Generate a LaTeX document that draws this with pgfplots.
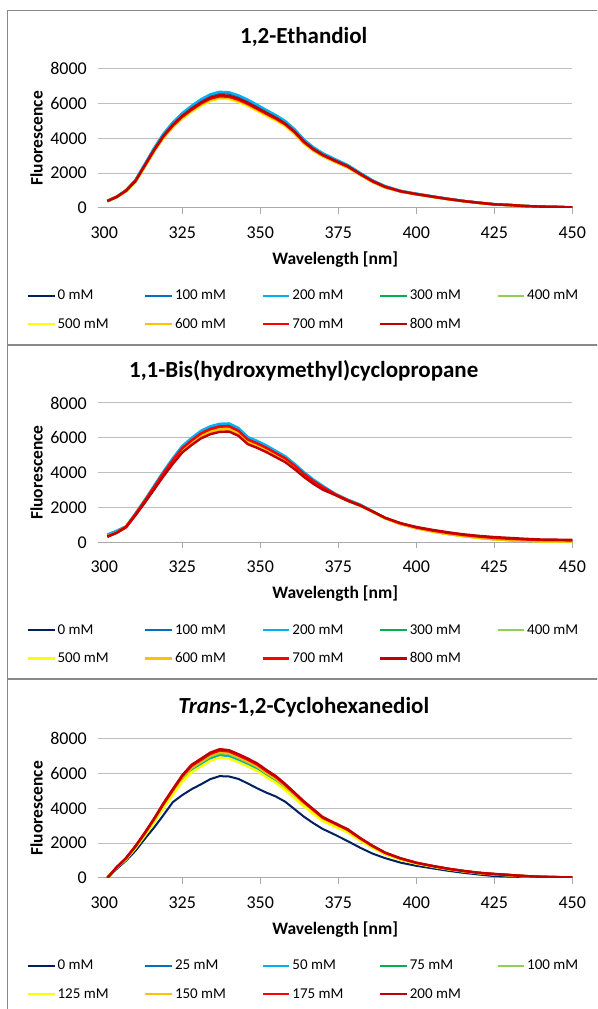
\documentclass[border=0pt]{standalone}
\usepackage{fontspec}
\setmainfont{Carlito}
\usepackage{pgfplots}
\usepackage{pgfplotstable}
\pgfplotsset{compat=1.18}

\definecolor{c0}{RGB}{0,32,96}
\definecolor{c1}{RGB}{0,112,192}
\definecolor{c2}{RGB}{0,176,240}
\definecolor{c3}{RGB}{0,176,80}
\definecolor{c4}{RGB}{146,208,80}
\definecolor{c5}{RGB}{255,255,0}
\definecolor{c6}{RGB}{255,192,0}
\definecolor{c7}{RGB}{255,0,0}
\definecolor{c8}{RGB}{192,0,0}
\definecolor{gridgray}{RGB}{191,191,191}
\definecolor{axisgray}{RGB}{170,170,170}
\definecolor{framegray}{RGB}{136,136,136}

% Fluorescence spectra, one column per concentration
\pgfplotstableread{
x   s0   s1   s2   s3   s4   s5   s6   s7   s8
301 390  410  415  400  400  395  398  400  400
304 625  650  655  635  635  630  632  636  640
307 975  1020 1030 985  985  970  980  990  1000
310 1521 1591 1607 1537 1537 1513 1529 1544 1560
313 2389 2499 2524 2413 2413 2377 2401 2426 2450
316 3266 3417 3451 3300 3300 3250 3283 3317 3350
319 4046 4233 4275 4088 4088 4026 4067 4109 4150
322 4661 4876 4923 4708 4708 4637 4684 4732 4780
325 5158 5396 5449 5211 5211 5131 5184 5237 5290
328 5558 5814 5871 5615 5615 5529 5586 5643 5700
331 5909 6181 6242 5969 5969 5878 5939 5999 6060
334 6182 6467 6530 6245 6245 6150 6213 6277 6340
337 6318 6610 6674 6383 6383 6286 6350 6415 6480
340 6289 6579 6644 6353 6353 6257 6321 6386 6450
343 6123 6406 6468 6186 6186 6092 6154 6217 6280
346 5889 6161 6221 5949 5949 5859 5919 5980 6040
349 5606 5865 5923 5664 5664 5578 5635 5693 5750
352 5324 5569 5624 5378 5378 5296 5351 5405 5460
355 5051 5284 5335 5102 5102 5025 5076 5128 5180
358 4729 4947 4996 4777 4777 4705 4753 4802 4850
361 4280 4478 4522 4324 4324 4258 4302 4346 4390
364 3725 3896 3935 3763 3763 3705 3744 3782 3820
367 3305 3458 3492 3339 3339 3288 3322 3356 3390
370 2984 3121 3152 3014 3014 2968 2999 3029 3060
374 2652 2774 2802 2679 2679 2638 2666 2693 2720
378 2340 2448 2472 2364 2364 2328 2352 2376 2400
382 1911 1999 2019 1931 1931 1901 1921 1940 1960
386 1502 1571 1586 1517 1517 1494 1509 1525 1540
390 1190 1244 1257 1202 1202 1183 1196 1208 1220
395 945  975  985  955  955  940  950  955  960
400 790  815  820  795  795  785  790  795  800
405 650  670  675  655  655  645  650  655  660
410 515  530  535  515  515  510  515  520  520
415 395  405  410  400  400  390  395  400  400
420 295  305  310  300  300  290  295  300  300
425 205  215  218  210  210  205  208  210  210
430 165  172  175  168  168  165  167  170  170
435 105  112  115  110  110  105  108  110  110
440 78   82   85   80   80   77   79   80   80
445 58   62   63   60   60   57   59   60   60
450 28   31   32   30   30   28   29   30   30
}\ethandiol

\pgfplotstableread{
x   s0   s1   s2   s3   s4   s5   s6   s7   s8
301 430  430  440  340  340  330  330  330  320
304 650  655  665  570  565  555  560  560  540
307 909  914  923  891  887  873  878  900  860
310 1636 1644 1661 1604 1596 1571 1580 1620 1547
313 2404 2416 2440 2356 2344 2309 2321 2380 2273
316 3212 3228 3260 3148 3132 3085 3101 3180 3037
319 4020 4040 4080 3940 3920 3861 3881 3980 3801
322 4767 4791 4838 4673 4649 4578 4602 4720 4508
325 5454 5481 5535 5346 5319 5238 5265 5400 5157
328 5909 5938 5996 5792 5762 5675 5704 5850 5587
331 6313 6344 6406 6188 6156 6063 6094 6250 5969
334 6565 6598 6663 6435 6403 6305 6338 6500 6208
337 6706 6740 6806 6574 6540 6441 6474 6640 6341
340 6727 6760 6827 6593 6560 6460 6494 6660 6360
343 6470 6502 6566 6342 6310 6214 6246 6406 6118
346 5959 5989 6048 5841 5812 5723 5753 5900 5635
349 5737 5765 5822 5623 5595 5510 5538 5680 5424
352 5474 5501 5556 5366 5339 5257 5285 5420 5176
355 5171 5197 5248 5069 5043 4966 4992 5120 4890
358 4868 4892 4941 4772 4748 4675 4700 4820 4603
361 4444 4466 4510 4356 4334 4268 4290 4400 4202
364 3969 3989 4028 3891 3871 3812 3832 3930 3753
367 3555 3573 3608 3485 3467 3414 3432 3520 3362
370 3202 3218 3249 3138 3122 3075 3091 3170 3027
374 2774 2782 2793 2746 2741 2719 2727 2760 2719
378 2432 2439 2449 2408 2403 2384 2391 2420 2384
382 2151 2157 2166 2129 2125 2108 2114 2140 2108
386 1779 1784 1791 1761 1758 1743 1749 1770 1770
390 1390 1395 1400 1385 1380 1375 1380 1400 1410
395 1060 1060 1065 1055 1055 1050 1052 1080 1100
400 820  822  825  815  815  810  812  850  880
405 640  642  645  635  635  630  632  680  720
410 490  492  495  485  485  480  482  540  580
415 370  372  375  365  365  360  362  420  460
420 270  272  275  265  265  260  262  330  370
425 180  182  185  178  178  175  176  250  300
430 130  132  135  128  128  125  126  200  250
435 90   92   95   88   88   85   86   160  200
440 60   62   64   58   58   55   56   130  160
445 45   47   48   43   43   40   42   120  150
450 35   37   38   33   33   30   32   110  140
}\cyclopropane

\pgfplotstableread{
x   s0   s1   s2   s3   s4   s5   s6   s7   s8
301 50   0    0    0    0    0    0    0    0
304 520  600  600  605  610  590  610  615  620
307 1000 1100 1100 1110 1115 1075 1127 1139 1150
310 1560 1748 1748 1766 1775 1711 1793 1812 1830
313 2250 2483 2483 2509 2522 2431 2548 2574 2600
316 2900 3266 3266 3300 3317 3198 3352 3386 3420
319 3620 4107 4107 4150 4171 4021 4214 4257 4300
322 4360 4880 4880 4931 4957 4778 5008 5059 5110
325 4760 5635 5635 5694 5723 5517 5782 5841 5900
328 5100 6208 6208 6273 6305 6078 6370 6435 6500
331 5380 6542 6542 6610 6645 6405 6713 6782 6850
334 5680 6876 6876 6948 6984 6732 7056 7128 7200
337 5850 7067 7067 7141 7178 6919 7252 7326 7400
340 5830 7010 7010 7083 7120 6863 7193 7267 7340
343 5690 6790 6790 6861 6897 6648 6968 7039 7110
346 5430 6551 6551 6620 6654 6414 6723 6791 6860
349 5150 6284 6284 6350 6383 6152 6448 6514 6580
352 4900 5921 5921 5983 6014 5797 6076 6138 6200
355 4680 5587 5587 5645 5675 5470 5733 5792 5850
358 4380 5157 5157 5211 5238 5049 5292 5346 5400
361 3950 4680 4680 4729 4753 4582 4802 4851 4900
364 3520 4202 4202 4246 4268 4114 4312 4356 4400
367 3150 3772 3772 3812 3832 3693 3871 3911 3950
370 2820 3343 3343 3378 3395 3273 3430 3465 3500
374 2480 3008 3008 3040 3056 2945 3087 3119 3150
378 2120 2674 2674 2702 2716 2618 2744 2772 2800
382 1740 2197 2197 2220 2231 2151 2254 2277 2300
386 1400 1767 1767 1785 1795 1730 1813 1832 1850
390 1140 1394 1394 1409 1416 1365 1431 1445 1460
395 880  1080 1080 1090 1096 1057 1107 1119 1130
400 700  840  840  849  854  823  862  871  880
405 560  670  670  675  680  660  690  695  700
410 420  515  515  520  525  505  530  535  540
415 300  390  390  395  398  385  402  406  410
420 200  285  285  288  290  280  294  297  300
425 110  215  215  218  220  210  222  226  230
430 80   160  160  162  164  155  166  168  170
435 60   100  100  102  104  98   106  108  110
440 40   62   62   64   65   60   66   68   70
445 30   44   44   45   46   42   47   48   50
450 20   27   27   28   28   26   29   29   30
}\cyclohexanediol

\pgfplotsset{
  panel/.style={
    scale only axis, width=474.3pt, height=139.3pt,
    xmin=298, xmax=450, ymin=0, ymax=8000,
    xtick={325,350,375,400,425,450},
    xticklabels={325,350,375,400,425,450},
    extra x ticks={300}, extra x tick labels={300},
    extra x tick style={major tick length=0pt, xticklabel style={yshift=-5.7pt}},
    ytick={0,2000,4000,6000,8000},
    yticklabels={0,2000,4000,6000,8000},
    axis x line*=bottom, axis y line*=left,
    x axis line style={draw=axisgray, line width=1pt, -},
    y axis line style={draw=none},
    ytick style={draw=none},
    xtick style={draw=axisgray, line width=1pt},
    tick align=outside, major tick length=5.7pt,
    ymajorgrids, grid style={gridgray, line width=1pt},
    ticklabel style={font=\fontsize{18}{18}\selectfont},
    yticklabel style={inner sep=0pt, anchor=east, xshift=-5.3pt},
    xticklabel style={inner sep=0pt, anchor=north, yshift=-13pt},
    xlabel={Wavelength [nm]}, ylabel={Fluorescence},
    label style={font=\bfseries\fontsize{17.5}{17.5}\selectfont, inner sep=0pt},
    xlabel style={at={(axis description cs:0.5,-0.4056)}, anchor=base},
    ylabel style={at={(axis description cs:-0.1167,0.5)}, anchor=base},
    clip=true,
    legend columns=5,
    legend cell align=left,
    legend image code/.code={\draw[##1, line cap=butt] (0pt,0pt) -- (26.7pt,0pt);},
    legend style={draw=none, fill=none, inner sep=0pt, outer sep=0pt,
      at={(-0.1503,-0.5897)}, anchor=north west,
      font=\fontsize{15}{15}\selectfont,
      nodes={inner sep=0pt, outer sep=0pt},
      column sep=0pt, row sep=17pt,
      /tikz/every odd column/.append style={column sep=1.8pt},
      /tikz/every even column/.append style={column sep=35.5pt}},
    every axis plot/.append style={line width=2.4pt, no markers, line join=round},
  },
}

\begin{document}
\begin{tikzpicture}
\useasboundingbox (0pt,0pt) rectangle (597pt,1009pt);
\begin{scope}
\clip (0pt,0pt) rectangle (597pt,1009pt);
\fill[white] (0pt,0pt) rectangle (597pt,1009pt);

% panel frames
\draw[framegray, line width=1.3pt] (7.3pt,664pt) rectangle (620pt,998.7pt);
\draw[framegray, line width=1.3pt] (7.3pt,330pt) rectangle (620pt,664pt);
\draw[framegray, line width=1.3pt] (7.3pt,-20pt) rectangle (620pt,330pt);

% titles
\node[anchor=base, font=\bfseries\fontsize{23}{23}\selectfont, inner sep=0pt] at (303.7pt,965.8pt) {1,2-Ethandiol};
\node[anchor=base, font=\bfseries\fontsize{23}{23}\selectfont, inner sep=0pt] at (303.7pt,631pt) {1,1-Bis(hydroxymethyl)cyclopropane};
\node[anchor=base, font=\bfseries\fontsize{23}{23}\selectfont, inner sep=0pt] at (303.7pt,295.8pt) {\textit{Trans}-1,2-Cyclohexanediol};

% 1,2-Ethandiol
\begin{axis}[panel, at={(98pt,801pt)}, anchor=south west]
\addplot[c0] table[x=x,y=s0] {\ethandiol}; \addlegendentry{0 mM}
\addplot[c1] table[x=x,y=s1] {\ethandiol}; \addlegendentry{100 mM}
\addplot[c2] table[x=x,y=s2] {\ethandiol}; \addlegendentry{200 mM}
\addplot[c3] table[x=x,y=s3] {\ethandiol}; \addlegendentry{300 mM}
\addplot[c4] table[x=x,y=s4] {\ethandiol}; \addlegendentry{400 mM}
\addplot[c5] table[x=x,y=s5] {\ethandiol}; \addlegendentry{500 mM}
\addplot[c6] table[x=x,y=s6] {\ethandiol}; \addlegendentry{600 mM}
\addplot[c7] table[x=x,y=s7] {\ethandiol}; \addlegendentry{700 mM}
\addplot[c8] table[x=x,y=s8] {\ethandiol}; \addlegendentry{800 mM}
\end{axis}

% 1,1-Bis(hydroxymethyl)cyclopropane
\begin{axis}[panel, at={(98pt,466.7pt)}, anchor=south west]
\addplot[c0, line width=1.7pt] table[x=x,y=s0] {\cyclopropane}; \addlegendentry{0 mM}
\addplot[c1, line width=1.7pt] table[x=x,y=s1] {\cyclopropane}; \addlegendentry{100 mM}
\addplot[c2] table[x=x,y=s2] {\cyclopropane}; \addlegendentry{200 mM}
\addplot[c3] table[x=x,y=s3] {\cyclopropane}; \addlegendentry{300 mM}
\addplot[c4] table[x=x,y=s4] {\cyclopropane}; \addlegendentry{400 mM}
\addplot[c5] table[x=x,y=s5] {\cyclopropane}; \addlegendentry{500 mM}
\addplot[c6] table[x=x,y=s6] {\cyclopropane}; \addlegendentry{600 mM}
\addplot[c7] table[x=x,y=s7] {\cyclopropane}; \addlegendentry{700 mM}
\addplot[c8] table[x=x,y=s8] {\cyclopropane}; \addlegendentry{800 mM}
\end{axis}

% trans-1,2-Cyclohexanediol
\begin{axis}[panel, at={(98pt,131pt)}, anchor=south west]
\addplot[c0, line width=2pt] table[x=x,y=s0] {\cyclohexanediol}; \addlegendentry{0 mM}
\addplot[c1] table[x=x,y=s1] {\cyclohexanediol}; \addlegendentry{25 mM}
\addplot[c2] table[x=x,y=s2] {\cyclohexanediol}; \addlegendentry{50 mM}
\addplot[c3] table[x=x,y=s3] {\cyclohexanediol}; \addlegendentry{75 mM}
\addplot[c4] table[x=x,y=s4] {\cyclohexanediol}; \addlegendentry{100 mM}
\addplot[c5] table[x=x,y=s5] {\cyclohexanediol}; \addlegendentry{125 mM}
\addplot[c6] table[x=x,y=s6] {\cyclohexanediol}; \addlegendentry{150 mM}
\addplot[c7] table[x=x,y=s7] {\cyclohexanediol}; \addlegendentry{175 mM}
\addplot[c8] table[x=x,y=s8] {\cyclohexanediol}; \addlegendentry{200 mM}
\end{axis}
\end{scope}
\end{tikzpicture}
\end{document}
